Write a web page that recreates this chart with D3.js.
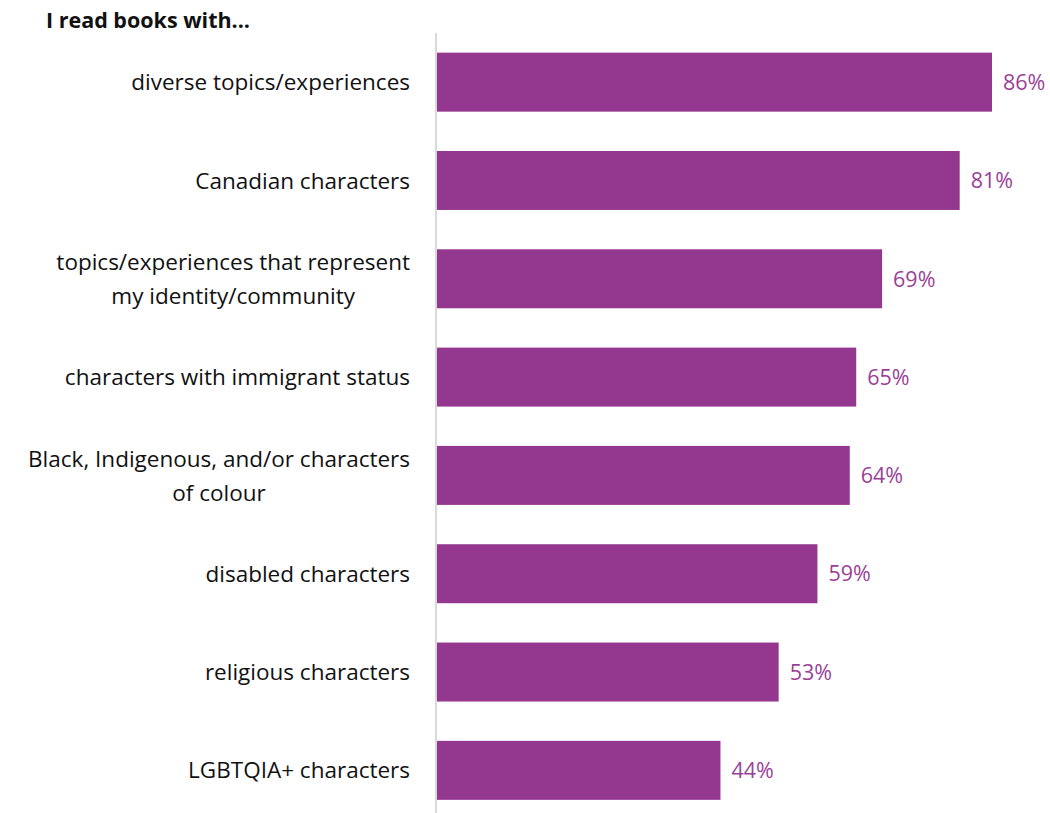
<!DOCTYPE html>
<html>
<head>
<meta charset="utf-8">
<script src="https://cdn.jsdelivr.net/npm/d3@7"></script>
<style>
  body { margin: 0; background: #fff; }
  text { font-family: "Open Sans", Lato, sans-serif; }
</style>
</head>
<body>
<svg width="1050" height="813"></svg>
<script>
// DATA
var categories = [
  ["diverse topics/experiences"],
  ["Canadian characters"],
  ["topics/experiences that represent", "my identity/community"],
  ["characters with immigrant status"],
  ["Black, Indigenous, and/or characters", "of colour"],
  ["disabled characters"],
  ["religious characters"],
  ["LGBTQIA+ characters"]
];
var values = [86, 81, 69, 65, 64, 59, 53, 44];
var title = "I read books with...";

// SETUP
var svg = d3.select("svg"),
    axisX = 436,
    barColor = "#93378f";

var x = d3.scaleLinear().domain([0, 86]).range([axisX, 992]);
var y = d3.scaleBand()
    .domain(d3.range(values.length))
    .range([33, 819.5])
    .paddingInner(0.4)
    .paddingOuter(0.2);

svg.append("text")
    .attr("x", 46)
    .attr("y", 28)
    .attr("font-weight", "bold")
    .attr("font-size", 21.5)
    .attr("fill", "#111")
    .text(title);

// bars
svg.selectAll(".bar")
    .data(values)
    .enter().append("rect")
    .attr("class", "bar")
    .attr("x", x(0))
    .attr("y", function (d, i) { return y(i); })
    .attr("width", function (d) { return x(d) - x(0); })
    .attr("height", y.bandwidth())
    .attr("fill", barColor);

// axis line
svg.append("line")
    .attr("x1", axisX).attr("x2", axisX)
    .attr("y1", 33).attr("y2", 813)
    .attr("stroke", "#d9d9d9")
    .attr("stroke-width", 2);

// value labels
svg.selectAll(".val")
    .data(values)
    .enter().append("text")
    .attr("class", "val")
    .attr("x", function (d) { return x(d) + 11; })
    .attr("y", function (d, i) { return y(i) + y.bandwidth() / 2; })
    .attr("dy", "0.36em")
    .attr("font-size", 21.5)
    .attr("fill", "#9a3f96")
    .text(function (d) { return d + "%"; });

// category labels
var labels = svg.selectAll(".cat")
    .data(categories)
    .enter().append("text")
    .attr("class", "cat")
    .attr("font-size", 22.5)
    .attr("fill", "#111")
    .attr("transform", function (d, i) {
        return "translate(0," + (y(i) + y.bandwidth() / 2) + ")";
    });

labels.each(function (lines) {
    var t = d3.select(this), lh = 34;
    var off = -(lines.length - 1) * lh / 2;
    lines.forEach(function (s, j) {
        t.append("tspan")
            .attr("x", 410)
            .attr("text-anchor", "end")
            .attr("y", off + j * lh)
            .attr("dy", "0.36em")
            .text(s);
    });
});

// two-line labels: second line centred under the first
labels.each(function (lines) {
    if (lines.length < 2) return;
    var spans = d3.select(this).selectAll("tspan").nodes();
    var w0 = spans[0].getComputedTextLength();
    var cx = 410 - w0 / 2;
    spans.forEach(function (s) {
        d3.select(s).attr("text-anchor", "middle").attr("x", cx);
    });
});
</script>
</body>
</html>
